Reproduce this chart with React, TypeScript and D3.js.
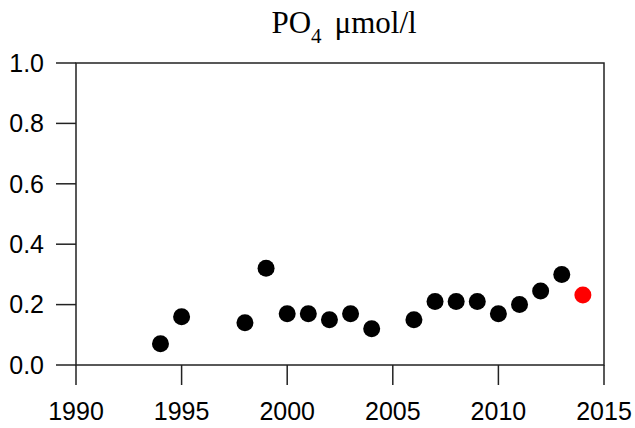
import React from "react";
import * as d3 from "d3";

const years = [1994, 1995, 1998, 1999, 2000, 2001, 2002, 2003, 2004, 2006, 2007, 2008, 2009, 2010, 2011, 2012, 2013];
const values = [0.07, 0.16, 0.14, 0.32, 0.17, 0.17, 0.15, 0.17, 0.12, 0.15, 0.21, 0.21, 0.21, 0.17, 0.2, 0.245, 0.3];
const highlightYears = [2014];
const highlightValues = [0.232];
const xTicks = [1990, 1995, 2000, 2005, 2010, 2015];
const yTicks = [0, 0.2, 0.4, 0.6, 0.8, 1.0];

export default function App() {
  const W = 635, H = 428;
  const left = 76, right = 604, top = 63, bottom = 365;
  const x = d3.scaleLinear().domain([1990, 2015]).range([left, right]);
  const y = d3.scaleLinear().domain([0, 1]).range([bottom, top]);
  const stroke = "#222";
  const font = "'Liberation Sans', Arial, sans-serif";
  return (
    <svg width={W} height={H} style={{ position: "absolute", left: 0, top: 0, background: "#fff" }}>
      <text x={(left + right) / 2 + 4} y={33} textAnchor="middle" fontFamily="'Liberation Serif', 'Times New Roman', serif" fontSize={31} fill="#000">
        PO<tspan fontSize={21} dy={10}>4</tspan><tspan dy={-10} dx={13}>μmol/l</tspan>
      </text>
      <rect x={left} y={top} width={right - left} height={bottom - top} fill="none" stroke={stroke} strokeWidth={1.5} />
      {yTicks.map((t) => (
        <g key={"y" + t}>
          <line x1={left - 20} x2={left} y1={y(t)} y2={y(t)} stroke={stroke} strokeWidth={1.5} />
          <text x={44} y={y(t)} dy="0.35em" textAnchor="end" fontFamily={font} fontSize={25} fill="#000">
            {d3.format(".1f")(t)}
          </text>
        </g>
      ))}
      {xTicks.map((t) => (
        <g key={"x" + t}>
          <line x1={x(t)} x2={x(t)} y1={bottom} y2={bottom + 20} stroke={stroke} strokeWidth={1.5} />
          <text x={x(t)} y={420} textAnchor="middle" fontFamily={font} fontSize={25} fill="#000">
            {t}
          </text>
        </g>
      ))}
      {years.map((yr, i) => (
        <circle key={yr} cx={x(yr)} cy={y(values[i])} r={8.5} fill="#000" />
      ))}
      {highlightYears.map((yr, i) => (
        <circle key={"h" + yr} cx={x(yr)} cy={y(highlightValues[i])} r={8.5} fill="#ff0000" />
      ))}
    </svg>
  );
}
